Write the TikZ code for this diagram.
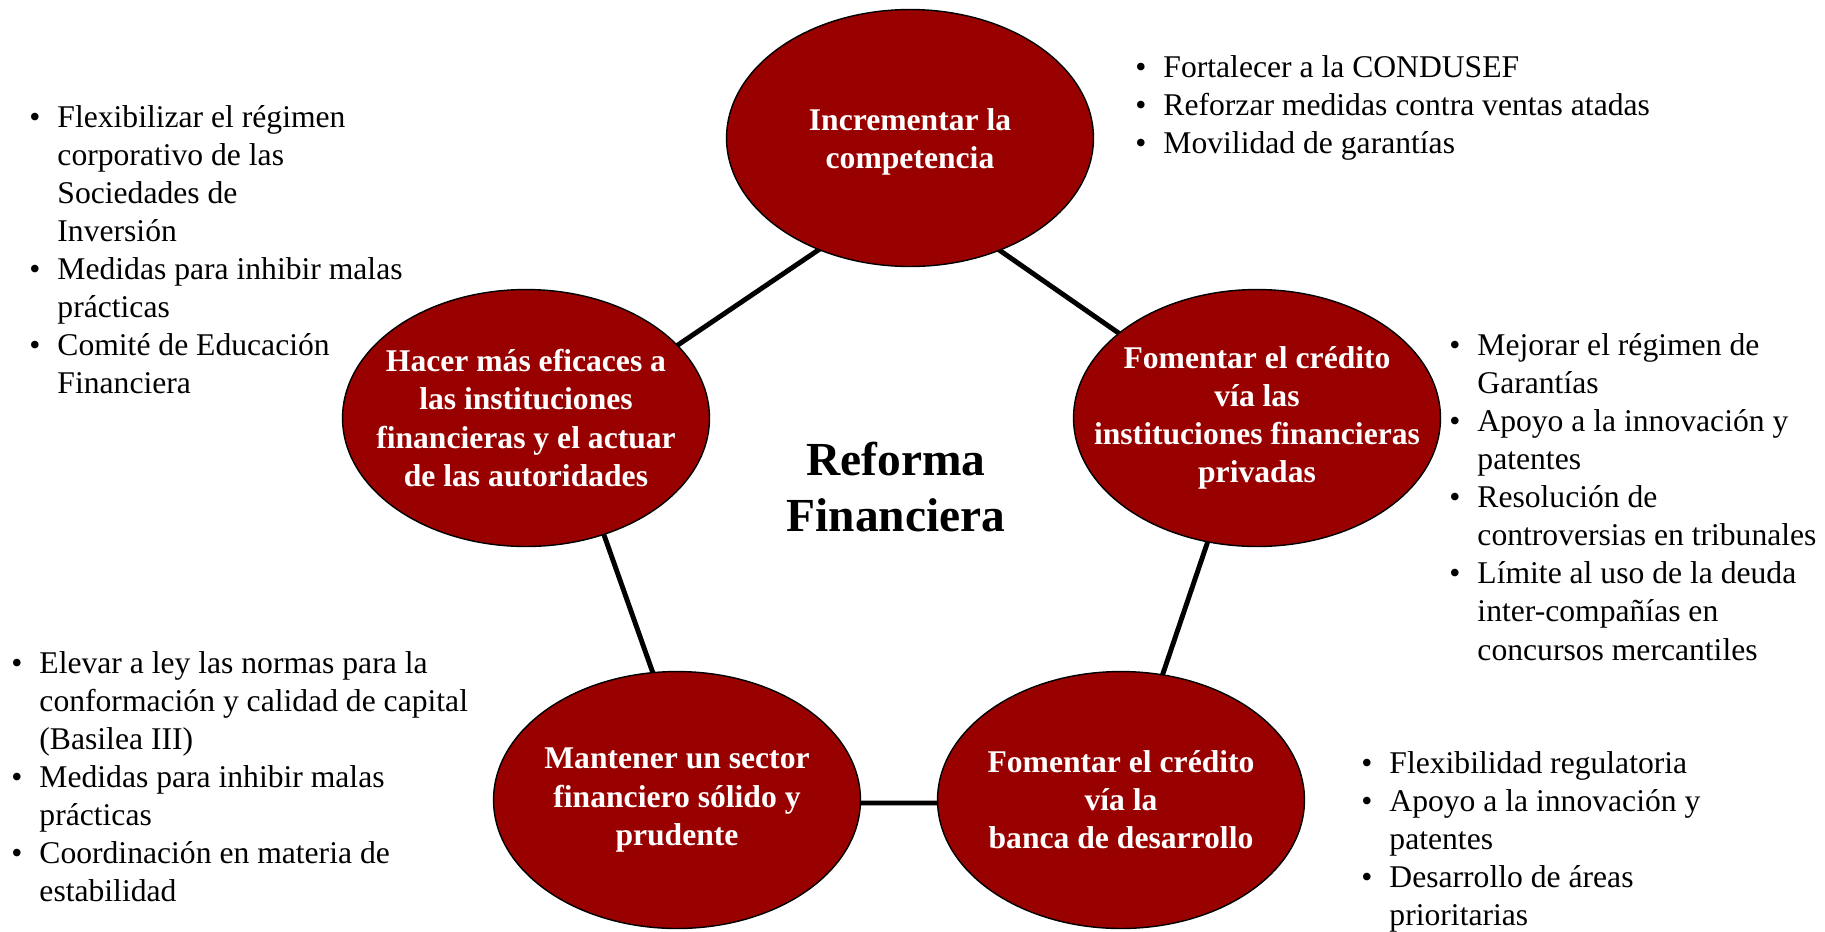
\documentclass[tikz,border=0pt]{standalone}
\usepackage{fontspec}
\setmainfont{Liberation Serif}
\usetikzlibrary{shapes.geometric}
\definecolor{rojoref}{RGB}{153,0,0}

\begin{document}
\begin{tikzpicture}[x=0.02cm,y=-0.02cm,
  elipse/.style={ellipse,draw=black,line width=0.8pt,fill=rojoref,
    minimum width=7.34cm,minimum height=5.14cm,inner sep=0pt},
  rotulo/.style={text=white,font=\fontsize{18}{21.7}\selectfont\bfseries,align=center},
  lista/.style={anchor=base west,inner sep=0pt,font=\fontsize{18}{21.7}\selectfont},
  enlace/.style={line width=2.8pt}]
  \useasboundingbox (0,0) rectangle (1825,931);
  % pentagono de enlaces, detras de las elipses
  \coordinate (vcomp) at (910,188);
  \coordinate (vpriv) at (1248,423);
  \coordinate (vdesa) at (1119,803);
  \coordinate (vsolido) at (699,803);
  \coordinate (vefic) at (564,422);
  \draw[enlace] (vcomp) -- (vpriv) -- (vdesa) -- (vsolido) -- (vefic) -- cycle;
  % ejes de la reforma
  \node[elipse] (comp) at (910,138) {};
  \node[elipse] (efic) at (526,418) {};
  \node[elipse] (priv) at (1257,418) {};
  \node[elipse] (solido) at (677,800) {};
  \node[elipse] (desa) at (1121,800) {};
  \node[rotulo] (tcomp) at (910,142) {Incrementar la\\competencia};
  \node[rotulo] (tefic) at (efic) {Hacer más eficaces a\\las instituciones\\financieras y el actuar\\de las autoridades};
  \node[rotulo] (tpriv) at (priv) {Fomentar el crédito\\vía las\\instituciones financieras\\privadas};
  \node[rotulo] (tsolido) at (solido) {Mantener un sector\\financiero sólido y\\prudente};
  \node[rotulo] (tdesa) at (desa) {Fomentar el crédito\\vía la\\banca de desarrollo};
  \node[font=\fontsize{27}{31.7}\selectfont\bfseries,align=center] (titulo) at (896,487) {Reforma\\Financiera};
  % medidas
  \node[lista] (lcomp) at (1135,77) {\begin{tabular}[t]{@{}p{16pt}@{}l@{}}
    \textbullet & Fortalecer a la CONDUSEF\\
    \textbullet & Reforzar medidas contra ventas atadas\\
    \textbullet & Movilidad de garantías
  \end{tabular}};
  \node[lista] (lefic) at (29,127) {\begin{tabular}[t]{@{}p{16pt}@{}l@{}}
    \textbullet & Flexibilizar el régimen\\
    & corporativo de las\\
    & Sociedades de\\
    & Inversión\\
    \textbullet & Medidas para inhibir malas\\
    & prácticas\\
    \textbullet & Comité de Educación\\
    & Financiera
  \end{tabular}};
  \node[lista] (lpriv) at (1449,355) {\begin{tabular}[t]{@{}p{16pt}@{}l@{}}
    \textbullet & Mejorar el régimen de\\
    & Garantías\\
    \textbullet & Apoyo a la innovación y\\
    & patentes\\
    \textbullet & Resolución de\\
    & controversias en tribunales\\
    \textbullet & Límite al uso de la deuda\\
    & inter-compañías en\\
    & concursos mercantiles
  \end{tabular}};
  \node[lista] (lsolido) at (11,673) {\begin{tabular}[t]{@{}p{16pt}@{}l@{}}
    \textbullet & Elevar a ley las normas para la\\
    & conformación y calidad de capital\\
    & (Basilea III)\\
    \textbullet & Medidas para inhibir malas\\
    & prácticas\\
    \textbullet & Coordinación en materia de\\
    & estabilidad
  \end{tabular}};
  \node[lista] (ldesa) at (1361,773) {\begin{tabular}[t]{@{}p{16pt}@{}l@{}}
    \textbullet & Flexibilidad regulatoria\\
    \textbullet & Apoyo a la innovación y\\
    & patentes\\
    \textbullet & Desarrollo de áreas\\
    & prioritarias
  \end{tabular}};
\end{tikzpicture}
\end{document}
